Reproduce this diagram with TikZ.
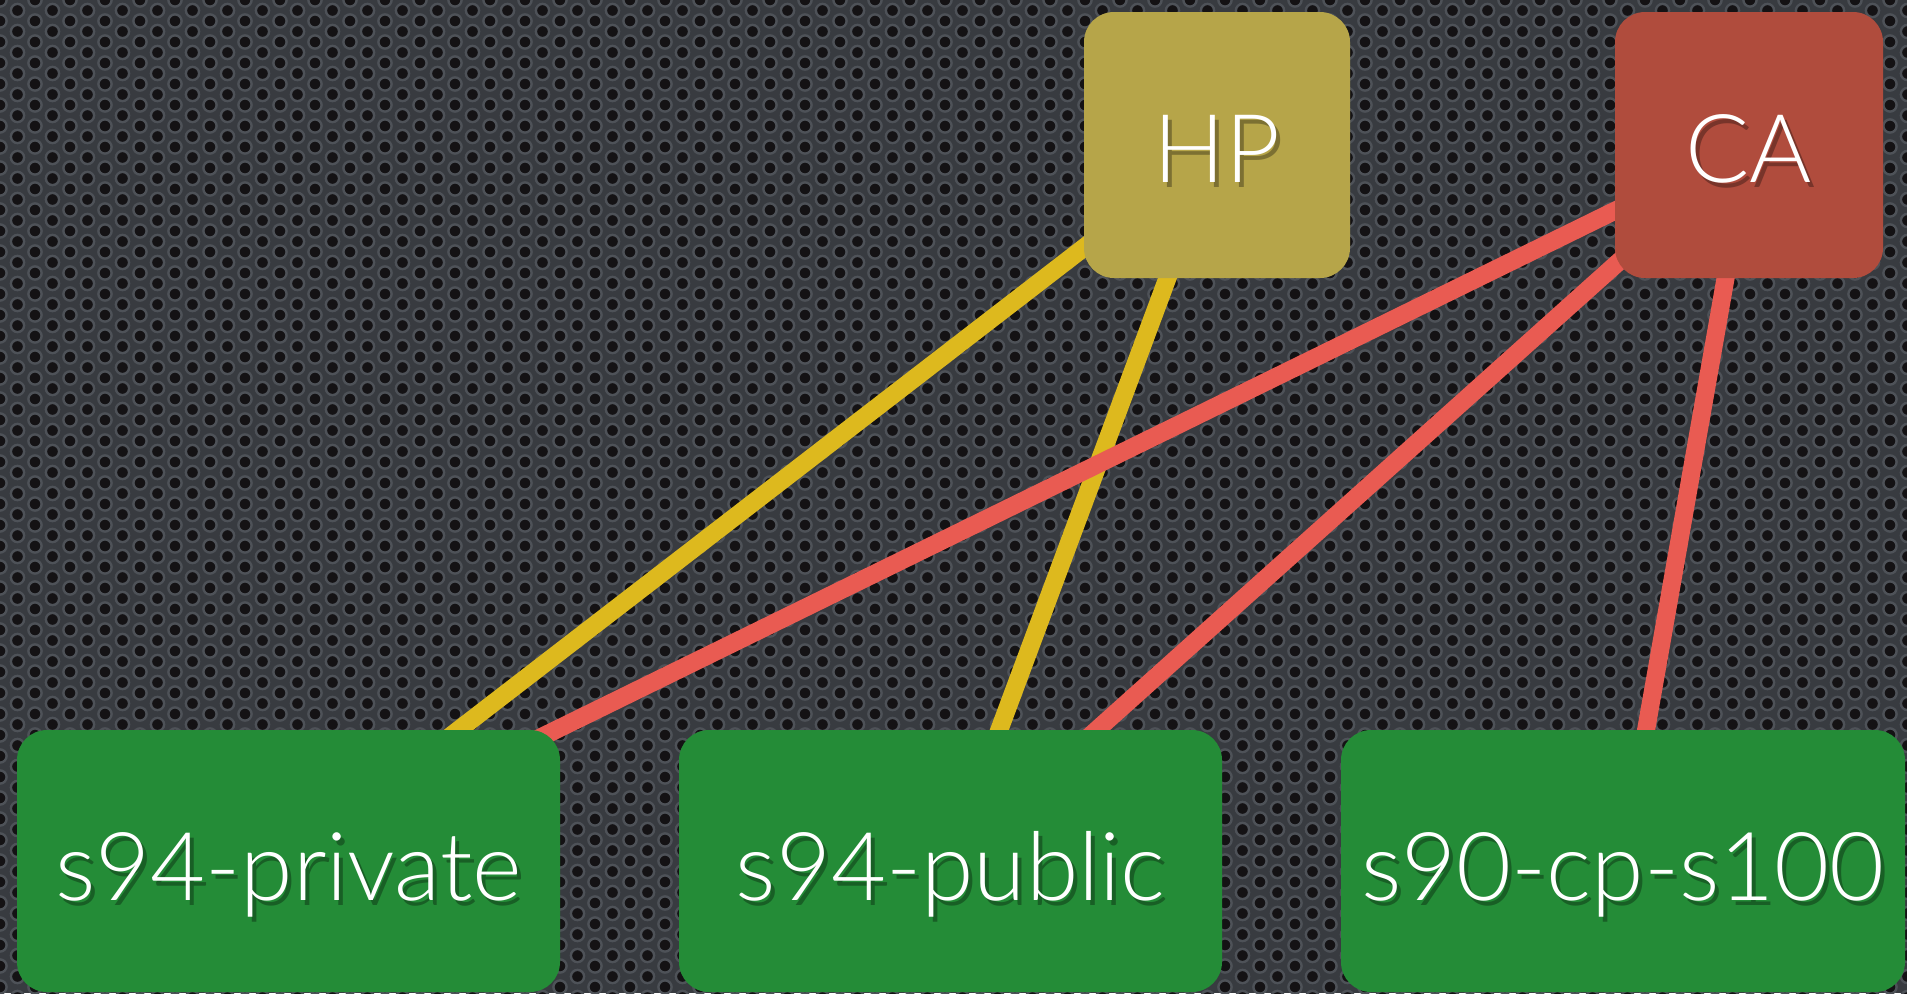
\documentclass[tikz,border=0pt]{standalone}
\usepackage{fontspec}
\setmainfont{Lato Light}
\definecolor{bgbase}{HTML}{383B40}
\definecolor{bgring}{HTML}{4E5258}
\definecolor{bghole}{HTML}{141214}
\definecolor{hpcol}{HTML}{B6A549}
\definecolor{cacol}{HTML}{B04C3D}
\definecolor{grncol}{HTML}{248C37}
\definecolor{ylw}{HTML}{DDB91E}
\definecolor{rd}{HTML}{E95B52}
\newcommand\shadowed[2]{%
  \rlap{\kern2pt\raisebox{-2.5pt}{\textcolor{#1!68!black}{#2}}}#2}
\pgfdeclarelayer{bgl}
\pgfdeclarelayer{linel}
\pgfsetlayers{bgl,linel,main}
\tikzset{
  box/.style={rounded corners=15pt, inner sep=0pt, text=white,
    font=\fontsize{47.5}{50}\selectfont, text depth=0pt},
  topbox/.style={box, minimum width=133pt, minimum height=133pt, text height=37pt},
  botbox/.style={box, fill=grncol, minimum height=131pt, text height=39pt},
  conn/.style={line width=9pt},
}
\begin{document}
\begin{tikzpicture}[x=0.5pt,y=-0.5pt]
\useasboundingbox (0,0) rectangle (1907,993);
\begin{pgfonlayer}{bgl}
  \fill[bgbase] (0,0) rectangle (1907,993);
  \foreach \j in {0,...,95}{
    \pgfmathsetmacro{\off}{mod(\j,2)*17.5}
    \foreach \i in {0,...,55}{
      \filldraw[fill=bghole, draw=bgring, line width=1.2pt]
        (\i*35+\off, \j*10.5) circle[radius=3.3pt];
    }
  }
\end{pgfonlayer}
\node[topbox, fill=hpcol] (hp) at (1217,145) {\shadowed{hpcol}{HP}};
\node[topbox, fill=cacol, minimum width=134pt] (ca) at (1749,145) {\shadowed{cacol}{CA}};
\node[botbox, minimum width=271.5pt] (priv) at (288.5,861) {\shadowed{grncol}{s94-private}};
\node[botbox, minimum width=271.5pt] (pub) at (950.5,861) {\shadowed{grncol}{s94-public}};
\node[botbox, minimum width=282pt] (s90) at (1623,861) {\shadowed{grncol}{s90-cp-s100}};
\begin{pgfonlayer}{linel}
  \draw[conn, ylw] (hp.center) -- (priv.center);
  \draw[conn, ylw] (hp.center) -- (pub.center);
  \draw[conn, rd] (ca.center) -- (priv.center);
  \draw[conn, rd] (ca.center) -- (pub.center);
  \draw[conn, rd] (ca.center) -- (s90.center);
\end{pgfonlayer}
\end{tikzpicture}
\end{document}
